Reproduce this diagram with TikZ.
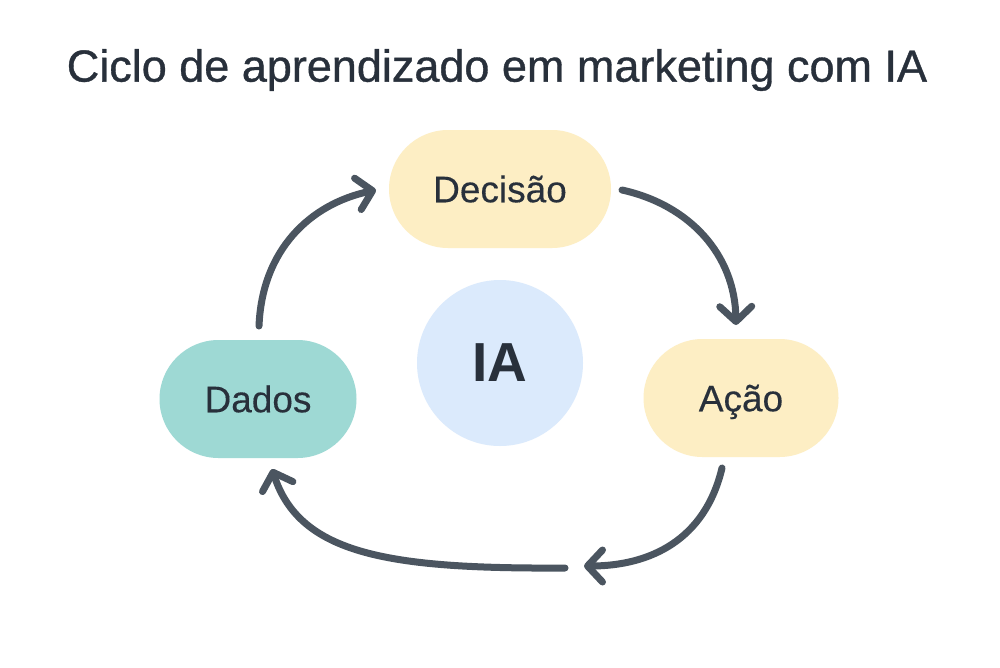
\documentclass[tikz,border=0pt]{standalone}
\usepackage{fontspec}
\setmainfont{Liberation Sans}
\newfontfamily\medfont[FakeBold=0.8]{Liberation Sans}
\newfontfamily\lblfont[FakeBold=0.3]{Liberation Sans}
\usetikzlibrary{arrows.meta}
\definecolor{txt}{HTML}{28303B}
\definecolor{arr}{HTML}{4B5560}
\definecolor{yel}{HTML}{FDEEC4}
\definecolor{teal}{HTML}{9ED9D4}
\definecolor{blu}{HTML}{DBEAFC}
\tikzset{
  pill/.style={rounded corners=59pt, minimum height=118pt, inner sep=0pt, text=txt,
    text height=26.5pt, text depth=0pt, font=\lblfont\fontsize{37}{42}\selectfont},
  flow/.style={draw=arr, line width=7pt, line cap=round, -{Straight Barb[length=15pt,width=32pt,round]}},
}
\begin{document}
\begin{tikzpicture}[x=1pt,y=-1pt]
\useasboundingbox[fill=white] (0,0) rectangle (1000,667);
\node[text=txt, font=\medfont\fontsize{45}{50}\selectfont] (title) at (497,70) {Ciclo de aprendizado em marketing com IA};
\node[pill, fill=yel, minimum width=222pt] (dec) at (500,189) {Decisão};
\node[pill, fill=yel, minimum width=195pt] (acao) at (741,398) {Ação};
\node[pill, fill=teal, minimum width=197pt] (dados) at (258,399) {Dados};
\node[circle, fill=blu, minimum size=166pt, inner sep=0pt, text=txt, font=\bfseries\fontsize{55}{60}\selectfont] (ia) at (500,363) {IA};
\coordinate (a1s) at (259,326);
\coordinate (a1e) at (376,190);
\coordinate (a2s) at (622,190);
\coordinate (a2e) at (736,325);
\coordinate (a3s) at (722,468);
\coordinate (a3e) at (584,566);
\coordinate (a4s) at (565,568);
\coordinate (a4e) at (272,469);
\draw[flow] (a1s) .. controls (262,250) and (310,204) .. (a1e);
\draw[flow] (a2s) .. controls (690,205) and (735,255) .. (a2e);
\draw[flow] (a3s) .. controls (705,540) and (650,566) .. (a3e);
\draw[flow] (a4s) .. controls (390,569) and (300,555) .. (a4e);
\end{tikzpicture}
\end{document}
